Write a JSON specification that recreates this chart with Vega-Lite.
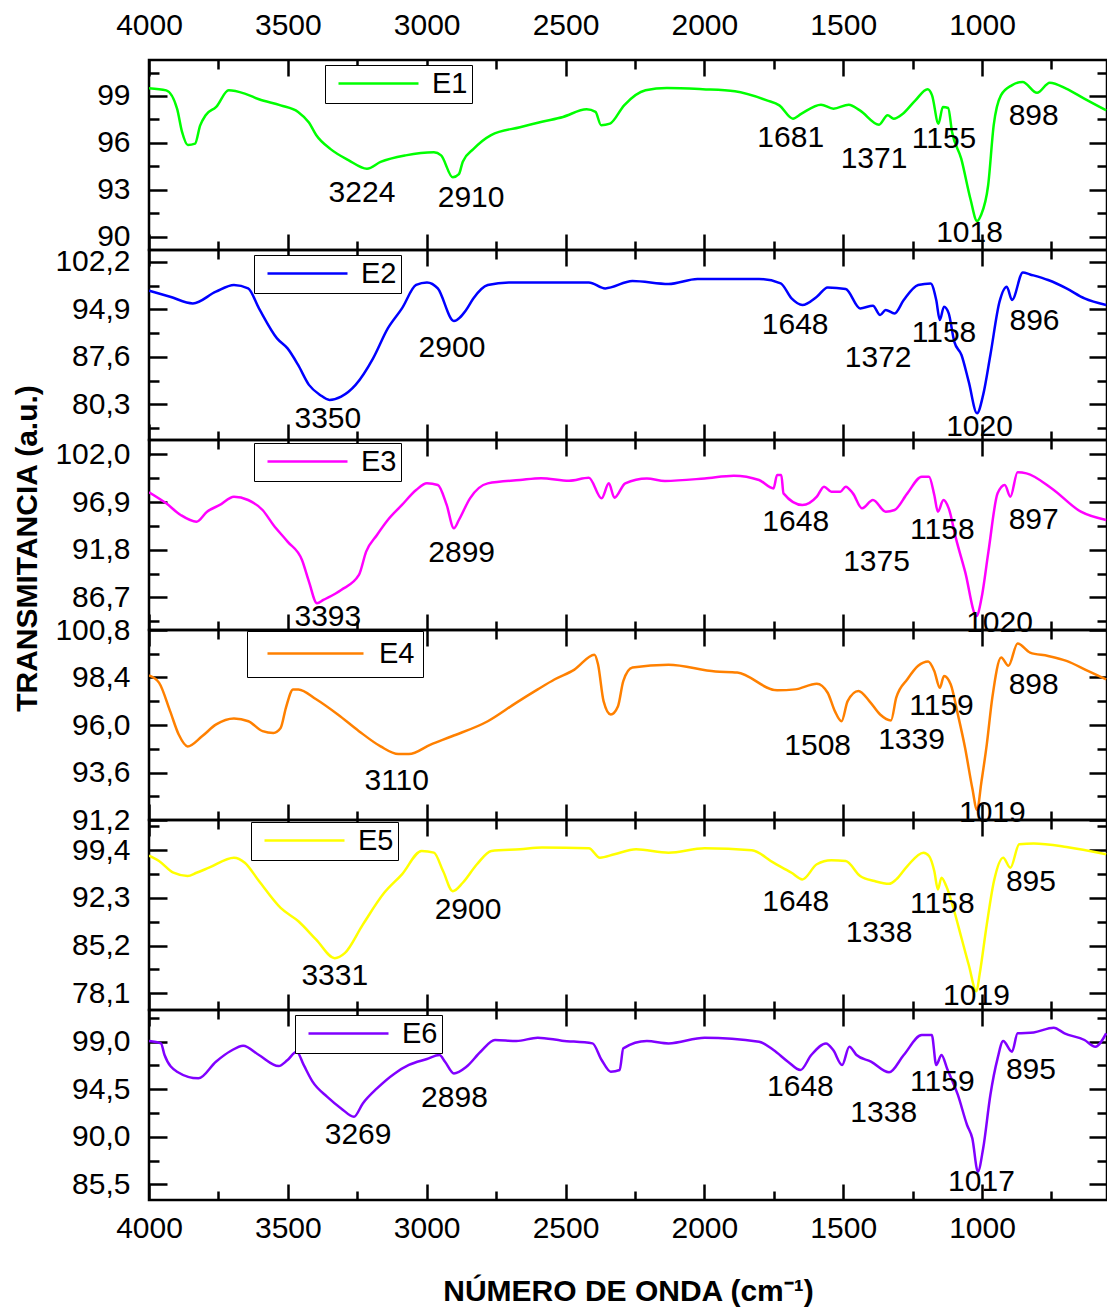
{
  "$schema": "https://vega.github.io/schema/vega-lite/v6.json",
  "background": "white",
  "padding": {"left": 10, "top": 8, "right": 5, "bottom": 5},
  "bounds": "flush",
  "spacing": 0,
  "datasets": {
    "spectra": [
      {"s":"E1","wn":4000,"t":99.5},{"s":"E1","wn":3938,"t":99.36},{"s":"E1","wn":3899,"t":98.19},{"s":"E1","wn":3881,"t":96.7},{"s":"E1","wn":3860,"t":95.86},{"s":"E1","wn":3834,"t":95.95},{"s":"E1","wn":3816,"t":97.1},{"s":"E1","wn":3796,"t":97.77},{"s":"E1","wn":3758,"t":98.3},{"s":"E1","wn":3713,"t":99.36},{"s":"E1","wn":3655,"t":99.15},{"s":"E1","wn":3604,"t":98.79},{"s":"E1","wn":3526,"t":98.4},{"s":"E1","wn":3463,"t":97.98},{"s":"E1","wn":3424,"t":97.3},{"s":"E1","wn":3398,"t":96.5},{"s":"E1","wn":3346,"t":95.6},{"s":"E1","wn":3282,"t":94.9},{"s":"E1","wn":3215,"t":94.35},{"s":"E1","wn":3166,"t":94.78},{"s":"E1","wn":3076,"t":95.2},{"s":"E1","wn":2974,"t":95.4},{"s":"E1","wn":2948,"t":95.2},{"s":"E1","wn":2906,"t":93.8},{"s":"E1","wn":2884,"t":94.0},{"s":"E1","wn":2870,"t":94.8},{"s":"E1","wn":2832,"t":95.6},{"s":"E1","wn":2768,"t":96.5},{"s":"E1","wn":2664,"t":97.0},{"s":"E1","wn":2585,"t":97.35},{"s":"E1","wn":2509,"t":97.66},{"s":"E1","wn":2424,"t":98.15},{"s":"E1","wn":2392,"t":97.98},{"s":"E1","wn":2372,"t":97.13},{"s":"E1","wn":2340,"t":97.23},{"s":"E1","wn":2289,"t":98.4},{"s":"E1","wn":2212,"t":99.36},{"s":"E1","wn":2135,"t":99.51},{"s":"E1","wn":2006,"t":99.43},{"s":"E1","wn":1890,"t":99.3},{"s":"E1","wn":1775,"t":98.72},{"s":"E1","wn":1730,"t":98.4},{"s":"E1","wn":1681,"t":97.55},{"s":"E1","wn":1650,"t":97.87},{"s":"E1","wn":1580,"t":98.44},{"s":"E1","wn":1535,"t":98.19},{"s":"E1","wn":1480,"t":98.44},{"s":"E1","wn":1440,"t":98.08},{"s":"E1","wn":1371,"t":97.16},{"s":"E1","wn":1340,"t":97.77},{"s":"E1","wn":1318,"t":97.55},{"s":"E1","wn":1285,"t":97.87},{"s":"E1","wn":1240,"t":98.72},{"s":"E1","wn":1196,"t":99.43},{"s":"E1","wn":1180,"t":99.04},{"s":"E1","wn":1157,"t":97.23},{"s":"E1","wn":1141,"t":98.3},{"s":"E1","wn":1122,"t":98.23},{"s":"E1","wn":1108,"t":96.7},{"s":"E1","wn":1075,"t":94.99},{"s":"E1","wn":1042,"t":92.43},{"s":"E1","wn":1018,"t":91.0},{"s":"E1","wn":1004,"t":91.37},{"s":"E1","wn":978,"t":93.29},{"s":"E1","wn":958,"t":97.13},{"s":"E1","wn":932,"t":99.04},{"s":"E1","wn":893,"t":99.68},{"s":"E1","wn":854,"t":99.9},{"s":"E1","wn":802,"t":99.2},{"s":"E1","wn":756,"t":99.85},{"s":"E1","wn":697,"t":99.47},{"s":"E1","wn":632,"t":98.83},{"s":"E1","wn":553,"t":98.08},

      {"s":"E2","wn":4000,"t":97.75},{"s":"E2","wn":3924,"t":96.83},{"s":"E2","wn":3842,"t":95.8},{"s":"E2","wn":3759,"t":97.6},{"s":"E2","wn":3694,"t":98.63},{"s":"E2","wn":3643,"t":98.1},{"s":"E2","wn":3604,"t":95.04},{"s":"E2","wn":3539,"t":90.44},{"s":"E2","wn":3501,"t":88.9},{"s":"E2","wn":3463,"t":86.36},{"s":"E2","wn":3424,"t":83.3},{"s":"E2","wn":3384,"t":81.76},{"s":"E2","wn":3350,"t":80.99},{"s":"E2","wn":3308,"t":81.5},{"s":"E2","wn":3256,"t":83.3},{"s":"E2","wn":3193,"t":87.37},{"s":"E2","wn":3140,"t":91.97},{"s":"E2","wn":3089,"t":95.04},{"s":"E2","wn":3038,"t":98.63},{"s":"E2","wn":2999,"t":99.03},{"s":"E2","wn":2960,"t":98.1},{"s":"E2","wn":2902,"t":93.1},{"s":"E2","wn":2858,"t":94.8},{"s":"E2","wn":2832,"t":96.57},{"s":"E2","wn":2780,"t":98.63},{"s":"E2","wn":2704,"t":99.03},{"s":"E2","wn":2585,"t":99.0},{"s":"E2","wn":2416,"t":99.03},{"s":"E2","wn":2357,"t":98.11},{"s":"E2","wn":2259,"t":99.24},{"s":"E2","wn":2129,"t":98.78},{"s":"E2","wn":2025,"t":99.55},{"s":"E2","wn":1803,"t":99.55},{"s":"E2","wn":1725,"t":98.87},{"s":"E2","wn":1686,"t":96.57},{"s":"E2","wn":1647,"t":95.56},{"s":"E2","wn":1595,"t":96.83},{"s":"E2","wn":1556,"t":98.26},{"s":"E2","wn":1491,"t":98.01},{"s":"E2","wn":1439,"t":95.04},{"s":"E2","wn":1393,"t":95.45},{"s":"E2","wn":1367,"t":94.03},{"s":"E2","wn":1347,"t":94.79},{"s":"E2","wn":1315,"t":94.27},{"s":"E2","wn":1282,"t":96.33},{"s":"E2","wn":1230,"t":98.63},{"s":"E2","wn":1185,"t":98.87},{"s":"E2","wn":1165,"t":96.33},{"s":"E2","wn":1152,"t":93.26},{"s":"E2","wn":1137,"t":95.3},{"s":"E2","wn":1120,"t":94.27},{"s":"E2","wn":1100,"t":89.93},{"s":"E2","wn":1074,"t":87.89},{"s":"E2","wn":1048,"t":83.8},{"s":"E2","wn":1018,"t":78.94},{"s":"E2","wn":996,"t":81.76},{"s":"E2","wn":970,"t":87.89},{"s":"E2","wn":937,"t":96.07},{"s":"E2","wn":911,"t":98.37},{"s":"E2","wn":892,"t":96.33},{"s":"E2","wn":853,"t":100.56},{"s":"E2","wn":827,"t":100.25},{"s":"E2","wn":762,"t":99.39},{"s":"E2","wn":696,"t":98.11},{"s":"E2","wn":631,"t":96.57},{"s":"E2","wn":553,"t":95.56},

      {"s":"E3","wn":4000,"t":97.95},{"s":"E3","wn":3938,"t":96.76},{"s":"E3","wn":3886,"t":95.52},{"s":"E3","wn":3829,"t":94.8},{"s":"E3","wn":3791,"t":95.87},{"s":"E3","wn":3745,"t":96.59},{"s":"E3","wn":3694,"t":97.48},{"s":"E3","wn":3643,"t":97.12},{"s":"E3","wn":3591,"t":96.05},{"s":"E3","wn":3552,"t":94.45},{"s":"E3","wn":3501,"t":92.67},{"s":"E3","wn":3449,"t":90.7},{"s":"E3","wn":3424,"t":88.39},{"s":"E3","wn":3395,"t":86.07},{"s":"E3","wn":3372,"t":86.43},{"s":"E3","wn":3308,"t":87.5},{"s":"E3","wn":3244,"t":89.1},{"s":"E3","wn":3218,"t":91.6},{"s":"E3","wn":3179,"t":93.38},{"s":"E3","wn":3140,"t":94.98},{"s":"E3","wn":3089,"t":96.59},{"s":"E3","wn":3038,"t":98.19},{"s":"E3","wn":2999,"t":98.9},{"s":"E3","wn":2960,"t":98.73},{"s":"E3","wn":2928,"t":96.59},{"s":"E3","wn":2902,"t":94.09},{"s":"E3","wn":2884,"t":94.98},{"s":"E3","wn":2844,"t":97.3},{"s":"E3","wn":2780,"t":98.9},{"s":"E3","wn":2664,"t":99.26},{"s":"E3","wn":2588,"t":99.45},{"s":"E3","wn":2487,"t":99.19},{"s":"E3","wn":2416,"t":99.51},{"s":"E3","wn":2370,"t":97.3},{"s":"E3","wn":2344,"t":98.9},{"s":"E3","wn":2324,"t":97.37},{"s":"E3","wn":2285,"t":98.9},{"s":"E3","wn":2207,"t":99.43},{"s":"E3","wn":2142,"t":99.16},{"s":"E3","wn":1999,"t":99.43},{"s":"E3","wn":1894,"t":99.72},{"s":"E3","wn":1803,"t":99.26},{"s":"E3","wn":1751,"t":98.36},{"s":"E3","wn":1738,"t":99.8},{"s":"E3","wn":1723,"t":99.8},{"s":"E3","wn":1715,"t":97.83},{"s":"E3","wn":1647,"t":96.59},{"s":"E3","wn":1595,"t":97.48},{"s":"E3","wn":1569,"t":98.55},{"s":"E3","wn":1543,"t":98.01},{"s":"E3","wn":1510,"t":98.01},{"s":"E3","wn":1491,"t":98.55},{"s":"E3","wn":1465,"t":97.83},{"s":"E3","wn":1432,"t":96.23},{"s":"E3","wn":1393,"t":97.12},{"s":"E3","wn":1347,"t":95.87},{"s":"E3","wn":1315,"t":96.05},{"s":"E3","wn":1269,"t":97.83},{"s":"E3","wn":1217,"t":99.62},{"s":"E3","wn":1191,"t":99.62},{"s":"E3","wn":1172,"t":97.66},{"s":"E3","wn":1159,"t":95.87},{"s":"E3","wn":1139,"t":97.12},{"s":"E3","wn":1120,"t":96.23},{"s":"E3","wn":1094,"t":93.02},{"s":"E3","wn":1061,"t":89.46},{"s":"E3","wn":1020,"t":84.7},{"s":"E3","wn":1002,"t":86.6},{"s":"E3","wn":977,"t":91.6},{"s":"E3","wn":944,"t":97.83},{"s":"E3","wn":918,"t":98.73},{"s":"E3","wn":898,"t":97.48},{"s":"E3","wn":872,"t":100.08},{"s":"E3","wn":840,"t":99.97},{"s":"E3","wn":749,"t":98.36},{"s":"E3","wn":644,"t":95.87},{"s":"E3","wn":553,"t":94.98},

      {"s":"E4","wn":4000,"t":98.5},{"s":"E4","wn":3964,"t":98.14},{"s":"E4","wn":3924,"t":96.7},{"s":"E4","wn":3893,"t":95.52},{"s":"E4","wn":3861,"t":94.92},{"s":"E4","wn":3809,"t":95.43},{"s":"E4","wn":3758,"t":96.03},{"s":"E4","wn":3694,"t":96.33},{"s":"E4","wn":3642,"t":96.19},{"s":"E4","wn":3591,"t":95.69},{"s":"E4","wn":3552,"t":95.6},{"s":"E4","wn":3526,"t":95.85},{"s":"E4","wn":3507,"t":96.87},{"s":"E4","wn":3481,"t":97.8},{"s":"E4","wn":3462,"t":97.8},{"s":"E4","wn":3398,"t":97.3},{"s":"E4","wn":3320,"t":96.53},{"s":"E4","wn":3244,"t":95.69},{"s":"E4","wn":3166,"t":94.92},{"s":"E4","wn":3102,"t":94.53},{"s":"E4","wn":3064,"t":94.53},{"s":"E4","wn":2986,"t":95.01},{"s":"E4","wn":2909,"t":95.43},{"s":"E4","wn":2780,"t":96.19},{"s":"E4","wn":2678,"t":97.12},{"s":"E4","wn":2600,"t":97.8},{"s":"E4","wn":2540,"t":98.3},{"s":"E4","wn":2468,"t":98.8},{"s":"E4","wn":2396,"t":99.55},{"s":"E4","wn":2383,"t":99.07},{"s":"E4","wn":2363,"t":97.21},{"s":"E4","wn":2337,"t":96.53},{"s":"E4","wn":2311,"t":96.95},{"s":"E4","wn":2292,"t":98.22},{"s":"E4","wn":2259,"t":98.9},{"s":"E4","wn":2129,"t":99.04},{"s":"E4","wn":1960,"t":98.7},{"s":"E4","wn":1882,"t":98.65},{"s":"E4","wn":1738,"t":97.75},{"s":"E4","wn":1673,"t":97.8},{"s":"E4","wn":1595,"t":98.09},{"s":"E4","wn":1556,"t":97.63},{"s":"E4","wn":1530,"t":96.7},{"s":"E4","wn":1506,"t":96.19},{"s":"E4","wn":1484,"t":97.21},{"s":"E4","wn":1445,"t":97.72},{"s":"E4","wn":1406,"t":97.21},{"s":"E4","wn":1367,"t":96.53},{"s":"E4","wn":1328,"t":96.23},{"s":"E4","wn":1309,"t":97.38},{"s":"E4","wn":1269,"t":98.31},{"s":"E4","wn":1230,"t":98.99},{"s":"E4","wn":1194,"t":99.21},{"s":"E4","wn":1172,"t":98.73},{"s":"E4","wn":1152,"t":97.88},{"s":"E4","wn":1137,"t":98.48},{"s":"E4","wn":1113,"t":98.06},{"s":"E4","wn":1087,"t":96.53},{"s":"E4","wn":1061,"t":94.84},{"s":"E4","wn":1035,"t":92.8},{"s":"E4","wn":1018,"t":91.71},{"s":"E4","wn":1002,"t":93.15},{"s":"E4","wn":983,"t":95.01},{"s":"E4","wn":963,"t":97.38},{"s":"E4","wn":931,"t":99.41},{"s":"E4","wn":905,"t":98.99},{"s":"E4","wn":872,"t":100.12},{"s":"E4","wn":827,"t":99.66},{"s":"E4","wn":762,"t":99.49},{"s":"E4","wn":696,"t":99.24},{"s":"E4","wn":619,"t":98.73},{"s":"E4","wn":553,"t":98.31},

      {"s":"E5","wn":4000,"t":98.6},{"s":"E5","wn":3964,"t":97.8},{"s":"E5","wn":3912,"t":96.05},{"s":"E5","wn":3861,"t":95.56},{"s":"E5","wn":3829,"t":96.05},{"s":"E5","wn":3784,"t":96.8},{"s":"E5","wn":3694,"t":98.29},{"s":"E5","wn":3655,"t":97.55},{"s":"E5","wn":3604,"t":94.81},{"s":"E5","wn":3526,"t":90.81},{"s":"E5","wn":3462,"t":88.83},{"s":"E5","wn":3398,"t":86.09},{"s":"E5","wn":3331,"t":83.34},{"s":"E5","wn":3295,"t":84.08},{"s":"E5","wn":3230,"t":88.33},{"s":"E5","wn":3153,"t":93.06},{"s":"E5","wn":3089,"t":95.81},{"s":"E5","wn":3018,"t":99.3},{"s":"E5","wn":2974,"t":99.04},{"s":"E5","wn":2941,"t":96.3},{"s":"E5","wn":2906,"t":93.31},{"s":"E5","wn":2870,"t":94.56},{"s":"E5","wn":2819,"t":97.31},{"s":"E5","wn":2767,"t":99.3},{"s":"E5","wn":2664,"t":99.55},{"s":"E5","wn":2585,"t":99.79},{"s":"E5","wn":2416,"t":99.7},{"s":"E5","wn":2376,"t":98.29},{"s":"E5","wn":2324,"t":98.8},{"s":"E5","wn":2246,"t":99.55},{"s":"E5","wn":2129,"t":99.04},{"s":"E5","wn":1999,"t":99.7},{"s":"E5","wn":1829,"t":99.4},{"s":"E5","wn":1751,"t":97.55},{"s":"E5","wn":1686,"t":96.05},{"s":"E5","wn":1647,"t":95.06},{"s":"E5","wn":1595,"t":97.31},{"s":"E5","wn":1543,"t":97.9},{"s":"E5","wn":1491,"t":97.8},{"s":"E5","wn":1439,"t":95.56},{"s":"E5","wn":1387,"t":94.81},{"s":"E5","wn":1335,"t":94.4},{"s":"E5","wn":1309,"t":95.06},{"s":"E5","wn":1269,"t":97.05},{"s":"E5","wn":1211,"t":99.04},{"s":"E5","wn":1191,"t":98.55},{"s":"E5","wn":1172,"t":96.3},{"s":"E5","wn":1159,"t":93.57},{"s":"E5","wn":1146,"t":95.31},{"s":"E5","wn":1129,"t":94.06},{"s":"E5","wn":1100,"t":90.32},{"s":"E5","wn":1074,"t":86.33},{"s":"E5","wn":1048,"t":82.35},{"s":"E5","wn":1020,"t":78.4},{"s":"E5","wn":1009,"t":80.85},{"s":"E5","wn":983,"t":88.33},{"s":"E5","wn":957,"t":94.81},{"s":"E5","wn":924,"t":98.29},{"s":"E5","wn":898,"t":96.8},{"s":"E5","wn":866,"t":100.3},{"s":"E5","wn":814,"t":100.39},{"s":"E5","wn":696,"t":99.89},{"s":"E5","wn":553,"t":98.8},

      {"s":"E6","wn":4000,"t":99.06},{"s":"E6","wn":3957,"t":98.84},{"s":"E6","wn":3944,"t":97.74},{"s":"E6","wn":3899,"t":96.16},{"s":"E6","wn":3822,"t":95.53},{"s":"E6","wn":3759,"t":97.11},{"s":"E6","wn":3706,"t":98.12},{"s":"E6","wn":3661,"t":98.62},{"s":"E6","wn":3604,"t":97.74},{"s":"E6","wn":3533,"t":96.7},{"s":"E6","wn":3501,"t":97.27},{"s":"E6","wn":3468,"t":98.05},{"s":"E6","wn":3443,"t":96.8},{"s":"E6","wn":3411,"t":95.22},{"s":"E6","wn":3359,"t":93.8},{"s":"E6","wn":3308,"t":92.69},{"s":"E6","wn":3262,"t":91.9},{"s":"E6","wn":3230,"t":93.16},{"s":"E6","wn":3179,"t":94.58},{"s":"E6","wn":3115,"t":96.0},{"s":"E6","wn":3064,"t":96.8},{"s":"E6","wn":2999,"t":97.36},{"s":"E6","wn":2954,"t":97.74},{"s":"E6","wn":2934,"t":97.11},{"s":"E6","wn":2902,"t":96.0},{"s":"E6","wn":2857,"t":96.63},{"s":"E6","wn":2806,"t":98.05},{"s":"E6","wn":2754,"t":99.16},{"s":"E6","wn":2677,"t":99.06},{"s":"E6","wn":2600,"t":99.38},{"s":"E6","wn":2513,"t":99.1},{"s":"E6","wn":2403,"t":98.84},{"s":"E6","wn":2370,"t":97.27},{"s":"E6","wn":2337,"t":96.16},{"s":"E6","wn":2305,"t":96.32},{"s":"E6","wn":2292,"t":98.37},{"s":"E6","wn":2207,"t":99.06},{"s":"E6","wn":2129,"t":98.84},{"s":"E6","wn":1999,"t":99.38},{"s":"E6","wn":1803,"t":99.0},{"s":"E6","wn":1751,"t":98.21},{"s":"E6","wn":1699,"t":97.11},{"s":"E6","wn":1654,"t":96.32},{"s":"E6","wn":1615,"t":97.74},{"s":"E6","wn":1562,"t":98.84},{"s":"E6","wn":1536,"t":98.21},{"s":"E6","wn":1504,"t":96.8},{"s":"E6","wn":1478,"t":98.53},{"s":"E6","wn":1452,"t":97.74},{"s":"E6","wn":1400,"t":97.11},{"s":"E6","wn":1335,"t":96.1},{"s":"E6","wn":1282,"t":97.74},{"s":"E6","wn":1217,"t":99.63},{"s":"E6","wn":1181,"t":99.63},{"s":"E6","wn":1165,"t":96.8},{"s":"E6","wn":1146,"t":97.74},{"s":"E6","wn":1126,"t":96.47},{"s":"E6","wn":1087,"t":93.96},{"s":"E6","wn":1054,"t":91.12},{"s":"E6","wn":1035,"t":89.85},{"s":"E6","wn":1015,"t":86.7},{"s":"E6","wn":996,"t":88.9},{"s":"E6","wn":970,"t":93.96},{"s":"E6","wn":944,"t":97.42},{"s":"E6","wn":924,"t":99.06},{"s":"E6","wn":892,"t":98.05},{"s":"E6","wn":872,"t":99.79},{"s":"E6","wn":814,"t":99.88},{"s":"E6","wn":742,"t":100.32},{"s":"E6","wn":703,"t":99.79},{"s":"E6","wn":631,"t":99.16},{"s":"E6","wn":592,"t":98.53},{"s":"E6","wn":553,"t":99.79}
    ],
    "labels": [
      {"s":"E1","wn":3233,"t":92.8,"txt":"3224"},{"s":"E1","wn":2840,"t":92.47,"txt":"2910"},{"s":"E1","wn":1689,"t":96.31,"txt":"1681"},{"s":"E1","wn":1389,"t":94.95,"txt":"1371"},{"s":"E1","wn":1137,"t":96.27,"txt":"1155"},{"s":"E1","wn":814,"t":97.72,"txt":"898"},{"s":"E1","wn":1045,"t":90.25,"txt":"1018"},
      {"s":"E2","wn":2909,"t":89.0,"txt":"2900"},{"s":"E2","wn":3356,"t":78.08,"txt":"3350"},{"s":"E2","wn":1673,"t":92.49,"txt":"1648"},{"s":"E2","wn":1374,"t":87.48,"txt":"1372"},{"s":"E2","wn":1137,"t":91.2,"txt":"1158"},{"s":"E2","wn":811,"t":93.1,"txt":"896"},{"s":"E2","wn":1009,"t":76.9,"txt":"1020"},
      {"s":"E3","wn":2874,"t":91.41,"txt":"2899"},{"s":"E3","wn":3356,"t":84.65,"txt":"3393"},{"s":"E3","wn":1671,"t":94.8,"txt":"1648"},{"s":"E3","wn":1380,"t":90.53,"txt":"1375"},{"s":"E3","wn":1143,"t":93.92,"txt":"1158"},{"s":"E3","wn":814,"t":94.98,"txt":"897"},{"s":"E3","wn":937,"t":83.93,"txt":"1020"},
      {"s":"E4","wn":3108,"t":93.15,"txt":"3110"},{"s":"E4","wn":1592,"t":94.92,"txt":"1508"},{"s":"E4","wn":1254,"t":95.26,"txt":"1339"},{"s":"E4","wn":1146,"t":96.95,"txt":"1159"},{"s":"E4","wn":814,"t":98.02,"txt":"898"},{"s":"E4","wn":963,"t":91.54,"txt":"1019"},
      {"s":"E5","wn":2851,"t":90.43,"txt":"2900"},{"s":"E5","wn":3331,"t":80.75,"txt":"3331"},{"s":"E5","wn":1671,"t":91.71,"txt":"1648"},{"s":"E5","wn":1371,"t":87.08,"txt":"1338"},{"s":"E5","wn":1143,"t":91.41,"txt":"1158"},{"s":"E5","wn":824,"t":94.7,"txt":"895"},{"s":"E5","wn":1020,"t":77.76,"txt":"1019"},
      {"s":"E6","wn":2900,"t":93.64,"txt":"2898"},{"s":"E6","wn":3247,"t":90.17,"txt":"3269"},{"s":"E6","wn":1654,"t":94.74,"txt":"1648"},{"s":"E6","wn":1354,"t":92.22,"txt":"1338"},{"s":"E6","wn":1143,"t":95.15,"txt":"1159"},{"s":"E6","wn":824,"t":96.32,"txt":"895"},{"s":"E6","wn":1002,"t":85.75,"txt":"1017"}
    ]
  },
  "vconcat": [
    {
      "width": 958, "height": 190,
      "layer": [
        {"data": {"name": "spectra"}, "transform": [{"filter": "datum.s === 'E1'"}],
         "mark": {"type": "line", "strokeWidth": 2.5, "clip": true, "interpolate": "monotone"},
         "encoding": {
           "x": {"field": "wn", "type": "quantitative", "scale": {"domain": [550, 4000], "reverse": true, "nice": false, "zero": false}, "axis": {"orient": "bottom", "values": [4000,3500,3000,2500,2000,1500,1000], "tickSize": -16, "labels": false, "title": null}},
           "y": {"field": "t", "type": "quantitative", "scale": {"domain": [89.15, 101.3], "nice": false, "zero": false}, "axis": {"orient": "left", "values": [90,93,96,99], "tickSize": -18, "labelPadding": 37, "format": "d", "title": null}},
           "color": {"field": "s", "type": "nominal", "scale": {"domain": ["E1"], "range": ["#00ff00"]}, "legend": {"legendX": 176, "legendY": 5}}
         }},
        {"data": {"name": "labels"}, "transform": [{"filter": "datum.s === 'E1'"}],
         "mark": {"type": "text", "fontSize": 30, "color": "black"},
         "encoding": {
           "x": {"field": "wn", "type": "quantitative", "scale": {"domain": [550, 4000], "reverse": true, "nice": false, "zero": false}, "axis": {"orient": "top", "values": [4000,3500,3000,2500,2000,1500,1000], "tickSize": -16, "labelPadding": 36, "format": "d", "title": null}},
           "y": {"field": "t", "type": "quantitative", "scale": {"domain": [89.15, 101.3], "nice": false, "zero": false}, "axis": {"orient": "right", "values": [90,93,96,99], "tickSize": -18, "labels": false, "title": null}},
           "text": {"field": "txt"}
         }},
        {"data": {"name": "labels"}, "transform": [{"filter": "datum.s === 'E1'"}],
         "mark": {"type": "point", "opacity": 0},
         "encoding": {
           "x": {"field": "wn", "type": "quantitative", "axis": {"orient": "bottom", "values": [3750,3250,2750,2250,1750,1250,750], "tickSize": -9, "labels": false, "title": null}},
           "y": {"field": "t", "type": "quantitative", "axis": {"orient": "left", "values": [91.5,94.5,97.5,100.5], "tickSize": -10, "labels": false, "title": null}}
         }},
        {"data": {"name": "labels"}, "transform": [{"filter": "datum.s === 'E1'"}],
         "mark": {"type": "point", "opacity": 0},
         "encoding": {
           "x": {"field": "wn", "type": "quantitative", "axis": {"orient": "top", "values": [3750,3250,2750,2250,1750,1250,750], "tickSize": -9, "labels": false, "title": null}},
           "y": {"field": "t", "type": "quantitative", "axis": {"orient": "right", "values": [91.5,94.5,97.5,100.5], "tickSize": -10, "labels": false, "title": null}}
         }}
      ],
      "resolve": {"axis": {"x": "independent", "y": "independent"}}
    },
    {
      "width": 958, "height": 190,
      "layer": [
        {"data": {"name": "spectra"}, "transform": [{"filter": "datum.s === 'E2'"}],
         "mark": {"type": "line", "strokeWidth": 2.5, "clip": true, "interpolate": "monotone"},
         "encoding": {
           "x": {"field": "wn", "type": "quantitative", "scale": {"domain": [550, 4000], "reverse": true, "nice": false, "zero": false}, "axis": {"orient": "bottom", "values": [4000,3500,3000,2500,2000,1500,1000], "tickSize": -16, "labels": false, "title": null}},
           "y": {"field": "t", "type": "quantitative", "scale": {"domain": [74.84, 104.0], "nice": false, "zero": false}, "axis": {"orient": "left", "values": [80.3,87.6,94.9,102.2], "tickSize": -18, "labelPadding": 37, "format": ".1f", "labelExpr": "replace(datum.label, '.', ',')", "title": null}},
           "color": {"field": "s", "type": "nominal", "scale": {"domain": ["E2"], "range": ["#0000ff"]}, "legend": {"legendX": 105, "legendY": 5}}
         }},
        {"data": {"name": "labels"}, "transform": [{"filter": "datum.s === 'E2'"}],
         "mark": {"type": "text", "fontSize": 30, "color": "black"},
         "encoding": {
           "x": {"field": "wn", "type": "quantitative", "scale": {"domain": [550, 4000], "reverse": true, "nice": false, "zero": false}, "axis": {"orient": "top", "values": [4000,3500,3000,2500,2000,1500,1000], "tickSize": -16, "labels": false, "title": null}},
           "y": {"field": "t", "type": "quantitative", "scale": {"domain": [74.84, 104.0], "nice": false, "zero": false}, "axis": {"orient": "right", "values": [80.3,87.6,94.9,102.2], "tickSize": -18, "labels": false, "title": null}},
           "text": {"field": "txt"}
         }},
        {"data": {"name": "labels"}, "transform": [{"filter": "datum.s === 'E2'"}],
         "mark": {"type": "point", "opacity": 0},
         "encoding": {
           "x": {"field": "wn", "type": "quantitative", "axis": {"orient": "bottom", "values": [3750,3250,2750,2250,1750,1250,750], "tickSize": -9, "labels": false, "title": null}},
           "y": {"field": "t", "type": "quantitative", "axis": {"orient": "left", "values": [76.65,83.95,91.25,98.55], "tickSize": -10, "labels": false, "title": null}}
         }},
        {"data": {"name": "labels"}, "transform": [{"filter": "datum.s === 'E2'"}],
         "mark": {"type": "point", "opacity": 0},
         "encoding": {
           "x": {"field": "wn", "type": "quantitative", "axis": {"orient": "top", "values": [3750,3250,2750,2250,1750,1250,750], "tickSize": -9, "labels": false, "title": null}},
           "y": {"field": "t", "type": "quantitative", "axis": {"orient": "right", "values": [76.65,83.95,91.25,98.55], "tickSize": -10, "labels": false, "title": null}}
         }}
      ],
      "resolve": {"axis": {"x": "independent", "y": "independent"}}
    },
    {
      "width": 958, "height": 190,
      "layer": [
        {"data": {"name": "spectra"}, "transform": [{"filter": "datum.s === 'E3'"}],
         "mark": {"type": "line", "strokeWidth": 2.5, "clip": true, "interpolate": "monotone"},
         "encoding": {
           "x": {"field": "wn", "type": "quantitative", "scale": {"domain": [550, 4000], "reverse": true, "nice": false, "zero": false}, "axis": {"orient": "bottom", "values": [4000,3500,3000,2500,2000,1500,1000], "tickSize": -16, "labels": false, "title": null}},
           "y": {"field": "t", "type": "quantitative", "scale": {"domain": [83.21, 103.54], "nice": false, "zero": false}, "axis": {"orient": "left", "values": [86.7,91.8,96.9,102.0], "tickSize": -18, "labelPadding": 37, "format": ".1f", "labelExpr": "replace(datum.label, '.', ',')", "title": "TRANSMITANCIA (a.u.)", "titleFontSize": 30, "titleFontWeight": "bold", "titleX": -122, "titleY": 108, "titleBaseline": "middle", "titleAlign": "center", "titleAngle": -90}},
           "color": {"field": "s", "type": "nominal", "scale": {"domain": ["E3"], "range": ["#ff00ff"]}, "legend": {"legendX": 105, "legendY": 3}}
         }},
        {"data": {"name": "labels"}, "transform": [{"filter": "datum.s === 'E3'"}],
         "mark": {"type": "text", "fontSize": 30, "color": "black"},
         "encoding": {
           "x": {"field": "wn", "type": "quantitative", "scale": {"domain": [550, 4000], "reverse": true, "nice": false, "zero": false}, "axis": {"orient": "top", "values": [4000,3500,3000,2500,2000,1500,1000], "tickSize": -16, "labels": false, "title": null}},
           "y": {"field": "t", "type": "quantitative", "scale": {"domain": [83.21, 103.54], "nice": false, "zero": false}, "axis": {"orient": "right", "values": [86.7,91.8,96.9,102.0], "tickSize": -18, "labels": false, "title": null}},
           "text": {"field": "txt"}
         }},
        {"data": {"name": "labels"}, "transform": [{"filter": "datum.s === 'E3'"}],
         "mark": {"type": "point", "opacity": 0},
         "encoding": {
           "x": {"field": "wn", "type": "quantitative", "axis": {"orient": "bottom", "values": [3750,3250,2750,2250,1750,1250,750], "tickSize": -9, "labels": false, "title": null}},
           "y": {"field": "t", "type": "quantitative", "axis": {"orient": "left", "values": [84.15,89.25,94.35,99.45], "tickSize": -10, "labels": false, "title": null}}
         }},
        {"data": {"name": "labels"}, "transform": [{"filter": "datum.s === 'E3'"}],
         "mark": {"type": "point", "opacity": 0},
         "encoding": {
           "x": {"field": "wn", "type": "quantitative", "axis": {"orient": "top", "values": [3750,3250,2750,2250,1750,1250,750], "tickSize": -9, "labels": false, "title": null}},
           "y": {"field": "t", "type": "quantitative", "axis": {"orient": "right", "values": [84.15,89.25,94.35,99.45], "tickSize": -10, "labels": false, "title": null}}
         }}
      ],
      "resolve": {"axis": {"x": "independent", "y": "independent"}}
    },
    {
      "width": 958, "height": 190,
      "layer": [
        {"data": {"name": "spectra"}, "transform": [{"filter": "datum.s === 'E4'"}],
         "mark": {"type": "line", "strokeWidth": 2.5, "clip": true, "interpolate": "monotone"},
         "encoding": {
           "x": {"field": "wn", "type": "quantitative", "scale": {"domain": [550, 4000], "reverse": true, "nice": false, "zero": false}, "axis": {"orient": "bottom", "values": [4000,3500,3000,2500,2000,1500,1000], "tickSize": -16, "labels": false, "title": null}},
           "y": {"field": "t", "type": "quantitative", "scale": {"domain": [91.2, 100.8], "nice": false, "zero": false}, "axis": {"orient": "left", "values": [91.2,93.6,96.0,98.4,100.8], "tickSize": -18, "labelPadding": 37, "format": ".1f", "labelExpr": "replace(datum.label, '.', ',')", "title": null}},
           "color": {"field": "s", "type": "nominal", "scale": {"domain": ["E4"], "range": ["#ff8000"]}, "legend": {"legendX": 98, "legendY": 1, "padding": 8, "symbolType": "M-0.2,0H9.4", "labelOffset": 95}}
         }},
        {"data": {"name": "labels"}, "transform": [{"filter": "datum.s === 'E4'"}],
         "mark": {"type": "text", "fontSize": 30, "color": "black"},
         "encoding": {
           "x": {"field": "wn", "type": "quantitative", "scale": {"domain": [550, 4000], "reverse": true, "nice": false, "zero": false}, "axis": {"orient": "top", "values": [4000,3500,3000,2500,2000,1500,1000], "tickSize": -16, "labels": false, "title": null}},
           "y": {"field": "t", "type": "quantitative", "scale": {"domain": [91.2, 100.8], "nice": false, "zero": false}, "axis": {"orient": "right", "values": [91.2,93.6,96.0,98.4,100.8], "tickSize": -18, "labels": false, "title": null}},
           "text": {"field": "txt"}
         }},
        {"data": {"name": "labels"}, "transform": [{"filter": "datum.s === 'E4'"}],
         "mark": {"type": "point", "opacity": 0},
         "encoding": {
           "x": {"field": "wn", "type": "quantitative", "axis": {"orient": "bottom", "values": [3750,3250,2750,2250,1750,1250,750], "tickSize": -9, "labels": false, "title": null}},
           "y": {"field": "t", "type": "quantitative", "axis": {"orient": "left", "values": [92.4,94.8,97.2,99.6], "tickSize": -10, "labels": false, "title": null}}
         }},
        {"data": {"name": "labels"}, "transform": [{"filter": "datum.s === 'E4'"}],
         "mark": {"type": "point", "opacity": 0},
         "encoding": {
           "x": {"field": "wn", "type": "quantitative", "axis": {"orient": "top", "values": [3750,3250,2750,2250,1750,1250,750], "tickSize": -9, "labels": false, "title": null}},
           "y": {"field": "t", "type": "quantitative", "axis": {"orient": "right", "values": [92.4,94.8,97.2,99.6], "tickSize": -10, "labels": false, "title": null}}
         }}
      ],
      "resolve": {"axis": {"x": "independent", "y": "independent"}}
    },
    {
      "width": 958, "height": 190,
      "layer": [
        {"data": {"name": "spectra"}, "transform": [{"filter": "datum.s === 'E5'"}],
         "mark": {"type": "line", "strokeWidth": 2.5, "clip": true, "interpolate": "monotone"},
         "encoding": {
           "x": {"field": "wn", "type": "quantitative", "scale": {"domain": [550, 4000], "reverse": true, "nice": false, "zero": false}, "axis": {"orient": "bottom", "values": [4000,3500,3000,2500,2000,1500,1000], "tickSize": -16, "labels": false, "title": null}},
           "y": {"field": "t", "type": "quantitative", "scale": {"domain": [75.62, 103.9], "nice": false, "zero": false}, "axis": {"orient": "left", "values": [78.1,85.2,92.3,99.4], "tickSize": -18, "labelPadding": 37, "format": ".1f", "labelExpr": "replace(datum.label, '.', ',')", "title": null}},
           "color": {"field": "s", "type": "nominal", "scale": {"domain": ["E5"], "range": ["#ffff00"]}, "legend": {"legendX": 102, "legendY": 2}}
         }},
        {"data": {"name": "labels"}, "transform": [{"filter": "datum.s === 'E5'"}],
         "mark": {"type": "text", "fontSize": 30, "color": "black"},
         "encoding": {
           "x": {"field": "wn", "type": "quantitative", "scale": {"domain": [550, 4000], "reverse": true, "nice": false, "zero": false}, "axis": {"orient": "top", "values": [4000,3500,3000,2500,2000,1500,1000], "tickSize": -16, "labels": false, "title": null}},
           "y": {"field": "t", "type": "quantitative", "scale": {"domain": [75.62, 103.9], "nice": false, "zero": false}, "axis": {"orient": "right", "values": [78.1,85.2,92.3,99.4], "tickSize": -18, "labels": false, "title": null}},
           "text": {"field": "txt"}
         }},
        {"data": {"name": "labels"}, "transform": [{"filter": "datum.s === 'E5'"}],
         "mark": {"type": "point", "opacity": 0},
         "encoding": {
           "x": {"field": "wn", "type": "quantitative", "axis": {"orient": "bottom", "values": [3750,3250,2750,2250,1750,1250,750], "tickSize": -9, "labels": false, "title": null}},
           "y": {"field": "t", "type": "quantitative", "axis": {"orient": "left", "values": [81.65,88.75,95.85,102.95], "tickSize": -10, "labels": false, "title": null}}
         }},
        {"data": {"name": "labels"}, "transform": [{"filter": "datum.s === 'E5'"}],
         "mark": {"type": "point", "opacity": 0},
         "encoding": {
           "x": {"field": "wn", "type": "quantitative", "axis": {"orient": "top", "values": [3750,3250,2750,2250,1750,1250,750], "tickSize": -9, "labels": false, "title": null}},
           "y": {"field": "t", "type": "quantitative", "axis": {"orient": "right", "values": [81.65,88.75,95.85,102.95], "tickSize": -10, "labels": false, "title": null}}
         }}
      ],
      "resolve": {"axis": {"x": "independent", "y": "independent"}}
    },
    {
      "width": 958, "height": 190,
      "layer": [
        {"data": {"name": "spectra"}, "transform": [{"filter": "datum.s === 'E6'"}],
         "mark": {"type": "line", "strokeWidth": 2.5, "clip": true, "interpolate": "monotone"},
         "encoding": {
           "x": {"field": "wn", "type": "quantitative", "scale": {"domain": [550, 4000], "reverse": true, "nice": false, "zero": false}, "axis": {"orient": "bottom", "values": [4000,3500,3000,2500,2000,1500,1000], "tickSize": -16, "labelPadding": 29, "format": "d", "title": "NÚMERO DE ONDA (cm⁻¹)", "titleFontSize": 30, "titleFontWeight": "bold", "titleY": 91, "titleBaseline": "middle"}},
           "y": {"field": "t", "type": "quantitative", "scale": {"domain": [84.02, 102.0], "nice": false, "zero": false}, "axis": {"orient": "left", "values": [85.5,90.0,94.5,99.0], "tickSize": -18, "labelPadding": 37, "format": ".1f", "labelExpr": "replace(datum.label, '.', ',')", "title": null}},
           "color": {"field": "s", "type": "nominal", "scale": {"domain": ["E6"], "range": ["#8000ff"]}, "legend": {"legendX": 146, "legendY": 5}}
         }},
        {"data": {"name": "labels"}, "transform": [{"filter": "datum.s === 'E6'"}],
         "mark": {"type": "text", "fontSize": 30, "color": "black"},
         "encoding": {
           "x": {"field": "wn", "type": "quantitative", "scale": {"domain": [550, 4000], "reverse": true, "nice": false, "zero": false}, "axis": {"orient": "top", "values": [4000,3500,3000,2500,2000,1500,1000], "tickSize": -16, "labels": false, "title": null}},
           "y": {"field": "t", "type": "quantitative", "scale": {"domain": [84.02, 102.0], "nice": false, "zero": false}, "axis": {"orient": "right", "values": [85.5,90.0,94.5,99.0], "tickSize": -18, "labels": false, "title": null}},
           "text": {"field": "txt"}
         }},
        {"data": {"name": "labels"}, "transform": [{"filter": "datum.s === 'E6'"}],
         "mark": {"type": "point", "opacity": 0},
         "encoding": {
           "x": {"field": "wn", "type": "quantitative", "axis": {"orient": "bottom", "values": [3750,3250,2750,2250,1750,1250,750], "tickSize": -9, "labels": false, "title": null}},
           "y": {"field": "t", "type": "quantitative", "axis": {"orient": "left", "values": [87.75,92.25,96.75,101.25], "tickSize": -10, "labels": false, "title": null}}
         }},
        {"data": {"name": "labels"}, "transform": [{"filter": "datum.s === 'E6'"}],
         "mark": {"type": "point", "opacity": 0},
         "encoding": {
           "x": {"field": "wn", "type": "quantitative", "axis": {"orient": "top", "values": [3750,3250,2750,2250,1750,1250,750], "tickSize": -9, "labels": false, "title": null}},
           "y": {"field": "t", "type": "quantitative", "axis": {"orient": "right", "values": [87.75,92.25,96.75,101.25], "tickSize": -10, "labels": false, "title": null}}
         }}
      ],
      "resolve": {"axis": {"x": "independent", "y": "independent"}}
    }
  ],
  "resolve": {"scale": {"color": "independent"}},
  "config": {
    "font": "Liberation Sans",
    "view": {"stroke": "black", "strokeWidth": 2.5},
    "axis": {"domain": false, "grid": false, "tickColor": "black", "tickWidth": 2.5, "labelFont": "Liberation Sans", "labelFontSize": 30, "labelColor": "black", "titleFont": "Liberation Sans", "titleColor": "black", "labelFlush": false, "labelOverlap": false, "labelBound": false, "zindex": 1},
    "legend": {"orient": "none", "title": null, "symbolType": "M-0.5,0H7.5", "symbolSize": 400, "symbolStrokeWidth": 2.5, "labelFont": "Liberation Sans", "labelFontSize": 29, "labelColor": "black", "strokeColor": "black", "padding": 4, "labelOffset": 74, "fillColor": "white"},
    "text": {"font": "Liberation Sans"}
  }
}
